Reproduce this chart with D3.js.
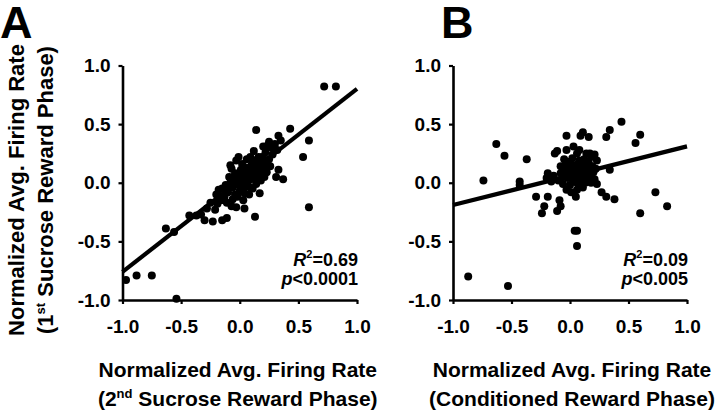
<!DOCTYPE html>
<html><head><meta charset="utf-8">
<script src="https://cdn.jsdelivr.net/npm/d3@7"></script>
<style>
html,body{margin:0;padding:0;background:#fff;}
svg{display:block;}
text{font-family:"Liberation Sans",Arial,sans-serif;font-weight:bold;fill:#000;}
</style></head>
<body>
<svg id="chart" width="720" height="417"></svg>
<script>
// ---------------- DATA ----------------
const tickValues = [-1, -0.5, 0, 0.5, 1];
const tickLabels = ["-1.0", "-0.5", "0.0", "0.5", "1.0"];

const panelLetters = ["A", "B"];

// Panel A: 2nd sucrose (x) vs 1st sucrose (y)
const pointsA = [
 [0.72,0.82],[0.82,0.82],
 [0.14,0.45],[0.43,0.46],[0.33,0.40],[0.59,0.36],[0.54,0.22],[0.59,-0.21],
 [0.33,0.11],[0.31,0.05],[0.37,0.03],[0.17,-0.09],[0.13,-0.29],
 [-0.08,0.15],[-0.03,0.19],[0.09,0.22],
 [0.20,0.31],[0.24,0.32],[0.29,0.31],[0.32,0.28],[0.16,0.22],[0.20,0.20],
 [-0.20,-0.10],[-0.18,-0.12],
 [-0.43,-0.28],[-0.37,-0.28],[-0.30,-0.32],[-0.23,-0.33],[-0.15,-0.32],[-0.11,-0.30],[-0.21,-0.23],
 [-0.63,-0.39],[-0.56,-0.42],
 [-0.97,-0.83],[-0.88,-0.79],[-0.75,-0.79],[-0.54,-0.99],
 [-0.07,-0.20],[-0.03,-0.21],[0.04,-0.22],
 [-0.15,-0.05],[-0.12,-0.02],[-0.10,-0.08],[-0.08,0.00],[-0.06,-0.04],[-0.05,0.03],[-0.04,-0.10],[-0.02,0.05],[-0.01,-0.02],[0.00,0.08],
 [0.01,0.00],[0.02,-0.06],[0.03,0.04],[0.04,0.10],[0.05,0.02],[0.06,-0.03],[0.07,0.07],[0.08,0.12],[0.09,0.03],[0.10,0.15],
 [0.11,0.06],[0.12,0.18],[0.13,0.09],[0.14,0.13],[0.15,0.04],[0.16,0.16],[0.17,0.10],[0.18,0.14],[0.19,0.07],[0.20,0.12],
 [0.22,0.17],[0.23,0.09],[0.25,0.20],[0.26,0.14],[0.28,0.24],[0.12,0.27],[0.06,0.20],[0.02,0.16],[-0.04,0.08],[-0.09,0.05],
 [-0.13,-0.12],[-0.16,-0.15],[-0.11,-0.17],[-0.06,-0.14],[-0.02,-0.12],[0.03,-0.15],[0.08,-0.10],[0.11,-0.05],[0.14,-0.01],[0.18,0.02],
 [-0.18,-0.06],[-0.07,0.12],[0.00,-0.07],[0.05,0.13],[0.10,0.09],[0.15,0.20],[0.21,0.05],[0.24,0.15],[0.07,0.01],[-0.03,0.01],
 [0.09,-0.04],[0.13,0.03],[0.01,0.11],[-0.01,0.22],[0.04,-0.09],[0.16,0.07],[0.19,0.22],[0.22,0.26],[0.27,0.30],[0.25,0.35],
 [-0.25,-0.17],[-0.28,-0.22],[-0.33,-0.27],[-0.19,-0.18],[0.30,0.33],[0.35,0.36]
];
// Panel B: conditioned (x) vs 1st sucrose (y)
const pointsB = [
 [0.44,0.52],[0.34,0.45],[0.31,0.39],[0.60,0.41],[0.56,0.34],
 [0.11,0.43],[0.16,0.39],[0.09,0.40],[-0.03,0.40],
 [-0.63,0.33],[-0.56,0.23],[-0.37,0.20],
 [-0.11,0.27],[-0.03,0.28],[-0.13,0.25],
 [-0.74,0.02],[-0.43,0.01],[-0.43,-0.02],
 [0.34,0.11],[0.23,-0.01],
 [0.27,-0.08],[0.31,-0.12],[0.38,-0.14],
 [0.73,-0.08],[0.83,-0.20],[0.60,-0.26],
 [-0.29,-0.12],[-0.19,-0.12],[-0.22,-0.20],[-0.24,-0.26],
 [-0.09,-0.15],[-0.08,-0.20],[-0.11,-0.24],
 [0.04,-0.41],[0.06,-0.41],[0.06,-0.54],
 [-0.87,-0.80],[-0.53,-0.88],
 [-0.19,0.08],[-0.14,0.06],[-0.20,0.04],[-0.16,0.01],[-0.10,0.02],[-0.06,0.05],
 [-0.03,-0.06],[0.06,-0.06],[0.11,-0.04],[0.06,0.00],
 [0.00,0.18],[0.06,0.25],[0.14,0.25],[0.18,0.22],[0.21,0.24],[0.23,0.19],
 [-0.05,0.10],[-0.02,0.04],[0.00,0.12],[0.02,0.07],[0.03,0.01],[0.04,0.15],[0.05,0.09],[0.07,0.04],[0.08,0.12],[0.09,0.07],
 [0.10,0.02],[0.11,0.16],[0.12,0.10],[0.13,0.05],[0.14,0.13],[0.15,0.08],[0.16,0.03],[0.17,0.11],[0.18,0.06],[0.19,0.14],
 [0.20,0.09],[0.21,0.03],[0.08,0.19],[0.02,0.21],[-0.04,0.15],[-0.08,0.08],[0.12,0.20],[0.16,0.17],[0.00,-0.02],[0.04,0.03],
 [0.09,-0.02],[0.13,0.00],[0.18,0.00],[0.22,0.12],[-0.01,0.07],[0.06,0.13],[0.10,0.11],[0.14,0.18],[0.03,0.11],[0.07,0.16],
 [-0.06,-0.01],[0.01,-0.08],[0.05,-0.12],[-0.08,0.14],[0.03,0.31],[0.08,0.28],[-0.05,0.20],[0.17,0.25]
];

// Regression lines: [intercept, slope, xStart, xEnd]
const fitA = [0.02, 0.78, -1, 1];
const fitB = [0.06, 0.25, -1, 1];

const statsA = ["0.69", "<0.0001"];
const statsB = ["0.09", "<0.005"];

const xTitleLine1 = "Normalized Avg. Firing Rate";
const xTitleA2 = ["(2", "nd", " Sucrose Reward Phase)"];
const xTitleB2 = ["(Conditioned Reward Phase)"];
const yTitleLine1 = "Normalized Avg. Firing Rate";
const yTitleA2 = ["(1", "st", " Sucrose Reward Phase)"];

// ---------------- DRAW ----------------
const svg = d3.select("#chart");
const FONT = '"Liberation Sans", Arial, sans-serif';

function panel(cfg) {
  const x = d3.scaleLinear().domain([-1, 1]).range([cfg.x0, cfg.x1]);
  const y = d3.scaleLinear().domain([-1, 1]).range([cfg.yb, cfg.yt]);
  const g = svg.append("g");

  const xAxis = d3.axisBottom(x).tickValues(tickValues)
    .tickFormat((d, i) => tickLabels[i]).tickSizeInner(4).tickSizeOuter(0).tickPadding(16);
  const yAxis = d3.axisLeft(y).tickValues(tickValues)
    .tickFormat((d, i) => tickLabels[i]).tickSizeInner(4).tickSizeOuter(0).tickPadding(8);

  const gx = g.append("g").attr("transform", `translate(0,${cfg.yb})`).call(xAxis);
  const gy = g.append("g").attr("transform", `translate(${cfg.x0},0)`).call(yAxis);
  [gx, gy].forEach(a => {
    a.select(".domain").attr("stroke", "#000").attr("stroke-width", 2.6);
    a.selectAll(".tick line").attr("stroke", "#000").attr("stroke-width", 2.2);
    a.selectAll(".tick text").attr("font-family", FONT).attr("font-weight", "bold")
      .attr("font-size", 19).attr("fill", "#000");
  });

  // points
  g.append("g").selectAll("circle").data(cfg.points).join("circle")
    .attr("cx", d => x(d[0])).attr("cy", d => y(d[1])).attr("r", 4).attr("fill", "#000");

  // fit line
  const f = cfg.fit;
  g.append("line")
    .attr("x1", x(f[2])).attr("y1", y(f[0] + f[1] * f[2]))
    .attr("x2", x(f[3])).attr("y2", y(f[0] + f[1] * f[3]))
    .attr("stroke", "#000").attr("stroke-width", 4.2);

  // stats
  const t1 = g.append("text").attr("x", cfg.x1 + 1).attr("y", cfg.yb - 34)
    .attr("text-anchor", "end").attr("font-size", 18);
  t1.append("tspan").attr("font-style", "italic").text("R");
  t1.append("tspan").attr("font-size", 11).attr("dy", -8).text("2");
  t1.append("tspan").attr("dy", 8).text("=" + cfg.stats[0]);
  const t2 = g.append("text").attr("x", cfg.x1 + 1).attr("y", cfg.yb - 15)
    .attr("text-anchor", "end").attr("font-size", 18);
  t2.append("tspan").attr("font-style", "italic").text("p");
  t2.append("tspan").text(cfg.stats[1]);

  // x title
  const cx = (cfg.x0 + cfg.x1) / 2 + cfg.xTitleShift;
  svg.append("text").attr("x", cx).attr("y", 377).attr("text-anchor", "middle")
    .attr("font-size", 21).text(xTitleLine1);
  const xt2 = svg.append("text").attr("x", cx).attr("y", 406).attr("text-anchor", "middle")
    .attr("font-size", 21);
  addSup(xt2, cfg.xTitle2);

  // panel letter
  svg.append("text").attr("x", cfg.letterX).attr("y", 38).attr("font-size", 45).text(cfg.letter);
  return {x, y};
}

function addSup(t, parts) {
  parts.forEach((p, i) => {
    if (parts.length === 3 && i === 1) {
      t.append("tspan").attr("font-size", 13).attr("dy", -8).text(p);
    } else if (parts.length === 3 && i === 2) {
      t.append("tspan").attr("dy", 8).text(p);
    } else {
      t.append("tspan").text(p);
    }
  });
}

panel({x0: 122.5, x1: 357, yt: 65.5, yb: 300, points: pointsA, fit: fitA,
  stats: statsA, xTitle2: xTitleA2, xTitleShift: -2, letter: panelLetters[0], letterX: 0});
panel({x0: 453, x1: 687, yt: 65.5, yb: 300, points: pointsB, fit: fitB,
  stats: statsB, xTitle2: xTitleB2, xTitleShift: 2, letter: panelLetters[1], letterX: 441});

// y title (panel A)
const yc = 190;
svg.append("text").attr("transform", `translate(24,${yc}) rotate(-90)`)
  .attr("text-anchor", "middle").attr("font-size", 22).text(yTitleLine1);
const yt2 = svg.append("text").attr("transform", `translate(53,${yc}) rotate(-90)`)
  .attr("text-anchor", "middle").attr("font-size", 22);
addSup(yt2, yTitleA2);
</script>
</body></html>
